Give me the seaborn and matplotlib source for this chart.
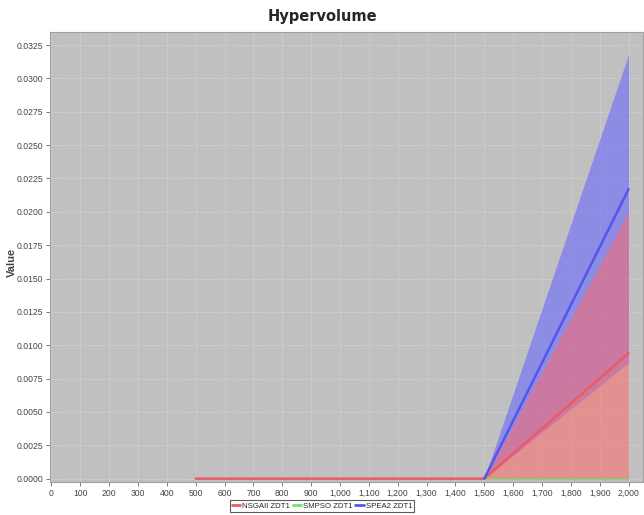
import matplotlib
matplotlib.use("Agg")
import matplotlib.pyplot as plt
import matplotlib.ticker as mticker
import numpy as np
import pandas as pd
import seaborn as sns

# Hypervolume per evaluation count: mean with lower/upper deviation band
nsga_x = [500, 1000, 1500, 2000]
nsga_mean = [0.0, 0.0, 0.0, 0.0094]
nsga_lo = [0.0, 0.0, 0.0, 0.0]
nsga_hi = [0.0, 0.0, 0.0, 0.0200]

smpso_x = [1500, 2000]
smpso_mean = [0.0, 0.0]
smpso_lo = [0.0, 0.0]
smpso_hi = [0.0, 0.0]

spea_x = [1500, 2000]
spea_mean = [0.0, 0.0217]
spea_lo = [0.0, 0.0087]
spea_hi = [0.0, 0.0318]

labels = ["NSGAII ZDT1", "SMPSO ZDT1", "SPEA2 ZDT1"]
line_colors = ["#ec5a64", "#6ee66e", "#5454ee"]
line_widths = {"NSGAII ZDT1": 1.8, "SMPSO ZDT1": 1.0, "SPEA2 ZDT1": 1.8}
band_colors = {"NSGAII ZDT1": "#ff6a6a", "SMPSO ZDT1": "#60ff60", "SPEA2 ZDT1": "#6a6aff"}
band_alpha = {"NSGAII ZDT1": 0.55, "SMPSO ZDT1": 0.5, "SPEA2 ZDT1": 0.6}

sns.set_style("white")
plt.rcParams["font.family"] = ["Liberation Sans", "DejaVu Sans"]

fig = plt.figure(figsize=(6.44, 5.15), dpi=100)
ax = fig.add_axes([50 / 644, (515 - 482) / 515, 593 / 644, 450 / 515])
ax.set_facecolor("#c0c0c0")

series = [
    (nsga_x, nsga_mean, nsga_lo, nsga_hi),
    (smpso_x, smpso_mean, smpso_lo, smpso_hi),
    (spea_x, spea_mean, spea_lo, spea_hi),
]

frames = []
for lab, (xs, m, lo, hi) in zip(labels, series):
    frames.append(pd.DataFrame({"Evaluations": xs, "Value": m, "lo": lo, "hi": hi, "Series": lab}))
df = pd.concat(frames, ignore_index=True)

# deviation bands first (SPEA2 underneath), then the mean lines on top
for lab in ["SPEA2 ZDT1", "SMPSO ZDT1", "NSGAII ZDT1"]:
    d = df[df["Series"] == lab]
    ax.fill_between(d["Evaluations"], d["lo"], d["hi"], color=band_colors[lab],
                    alpha=band_alpha[lab], linewidth=0, zorder=2)

for lab, col in zip(labels, line_colors):
    sns.lineplot(data=df[df["Series"] == lab], x="Evaluations", y="Value",
                 color=col, linewidth=line_widths[lab], ax=ax, zorder=3,
                 legend=False, estimator=None)

ax.set_xlim(-5, 2050)
ax.set_ylim(-0.00025, 0.03348)
ax.xaxis.set_major_locator(mticker.MultipleLocator(100))
ax.yaxis.set_major_locator(mticker.MultipleLocator(0.0025))
ax.xaxis.set_major_formatter(mticker.FuncFormatter(lambda v, p: f"{int(round(v)):,}"))
ax.yaxis.set_major_formatter(mticker.FormatStrFormatter("%.4f"))

ax.grid(True, color="white", linewidth=0.5, linestyle=(0, (1.5, 1.5)), alpha=0.45, zorder=1)
ax.set_axisbelow(True)

for s in ax.spines.values():
    s.set_color("#a0a0a0")
    s.set_linewidth(0.8)

ax.tick_params(axis="both", which="major", labelsize=6.2, colors="#666666",
               length=3, width=0.6, direction="out", labelcolor="#444444", pad=2)
ax.tick_params(axis="both", bottom=True, left=True)

ax.set_xlabel("")
ax.set_ylabel("")
fig.text(12 / 644, 1 - 262 / 515, "Value", ha="center", va="center", rotation=90,
         fontsize=8, fontweight="bold", color="#444444")
fig.text(0.5, 1 - 16 / 515, "Hypervolume", ha="center", va="center",
         fontsize=10.5, fontweight="bold", family=["DejaVu Sans"])

handles = [plt.Line2D([], [], color=c, linewidth=2.0) for c in line_colors]
leg = fig.legend(handles, labels, loc="center", bbox_to_anchor=(0.5, 1 - 506 / 515),
                 ncol=3, fontsize=5.6, frameon=True, fancybox=False,
                 handlelength=1.1, handletextpad=0.25, columnspacing=0.3,
                 borderpad=0.3, borderaxespad=0)
leg.get_frame().set_edgecolor("#333333")
leg.get_frame().set_linewidth(0.8)

fig.savefig("out.png", dpi=100)
